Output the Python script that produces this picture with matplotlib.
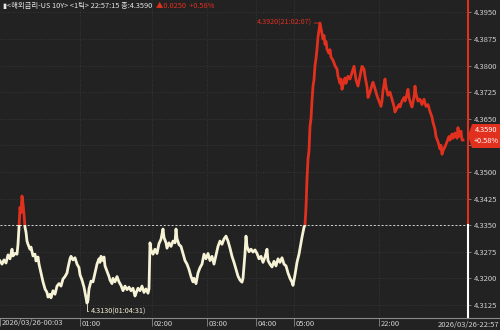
import numpy as np
import matplotlib
matplotlib.use("Agg")
import matplotlib.pyplot as plt
import matplotlib.transforms as mtrans
from matplotlib.patches import Rectangle, Polygon

plt.rcParams['font.family'] = ['Noto Sans CJK KR', 'DejaVu Sans']

# tick index (time, compressed) and yield values
t = [0, 2, 4, 6, 8, 10, 12, 13, 15, 17, 18, 19, 20, 21, 22, 23, 24, 25, 26, 27,
     28, 30, 31, 33, 35, 36, 38, 39, 41, 43, 45, 47, 48, 50, 51, 53, 55, 57, 59, 61,
     63, 65, 67, 68, 70, 71, 73, 75, 77, 79, 80, 82, 84, 85, 87, 88, 89, 91, 93, 95,
     97, 99, 100, 101, 103, 104, 105, 107, 109, 110, 112, 113, 115, 117, 119, 121, 123, 125, 127, 129,
     131, 133, 135, 136, 138, 140, 142, 144, 146, 148, 149, 150, 151, 153, 155, 157, 159, 161, 163, 164,
     166, 167, 169, 171, 173, 175, 176, 177, 179, 181, 183, 185, 187, 189, 191, 193, 194, 196, 198, 200,
     202, 204, 206, 208, 210, 212, 214, 216, 218, 220, 222, 224, 226, 228, 230, 232, 234, 236, 238, 240,
     242, 243, 245, 246, 247, 249, 251, 253, 255, 257, 259, 261, 263, 265, 267, 268, 270, 272, 274, 276,
     278, 280, 282, 284, 286, 288, 290, 292, 293, 295, 297, 299, 301, 302, 304, 305, 306, 307, 308, 309,
     310, 311, 312, 313, 314, 315, 316, 317, 318, 319, 320, 321, 322, 323, 324, 325, 326, 327, 329, 330,
     331, 333, 335, 337, 338, 340, 341, 342, 343, 345, 346, 348, 350, 352, 354, 355, 356, 358, 360, 362,
     364, 365, 367, 368, 370, 372, 373, 375, 377, 379, 381, 382, 383, 385, 386, 388, 390, 392, 394, 395,
     397, 399, 400, 402, 404, 405, 407, 408, 409, 411, 412, 414, 415, 416, 418, 420, 422, 424, 426, 428,
     430, 432, 433, 435, 436, 438, 440, 441, 442, 443, 445, 447, 449, 450, 452, 453, 455, 457, 458, 459,
     461, 462, 463]
yld = [4.3249, 4.3240, 4.3252, 4.3243, 4.3266, 4.3255, 4.3282, 4.3263, 4.3270, 4.3268, 4.3296, 4.3344, 4.3400, 4.3385, 4.3432, 4.3410, 4.3380, 4.3344, 4.3330, 4.3305,
       4.3296, 4.3282, 4.3288, 4.3263, 4.3268, 4.3249, 4.3260, 4.3240, 4.3215, 4.3190, 4.3170, 4.3160, 4.3147, 4.3155, 4.3145, 4.3165, 4.3155, 4.3178, 4.3185, 4.3178,
       4.3198, 4.3205, 4.3215, 4.3230, 4.3255, 4.3262, 4.3252, 4.3258, 4.3240, 4.3230, 4.3210, 4.3195, 4.3175, 4.3160, 4.3130, 4.3138, 4.3170, 4.3192, 4.3190, 4.3215,
       4.3240, 4.3255, 4.3245, 4.3262, 4.3250, 4.3260, 4.3235, 4.3220, 4.3205, 4.3195, 4.3185, 4.3200, 4.3190, 4.3205, 4.3190, 4.3180, 4.3165, 4.3178, 4.3168, 4.3175,
       4.3165, 4.3172, 4.3150, 4.3158, 4.3172, 4.3165, 4.3178, 4.3160, 4.3170, 4.3158, 4.3170, 4.3300, 4.3280, 4.3268, 4.3282, 4.3270, 4.3298, 4.3310, 4.3339, 4.3315,
       4.3300, 4.3285, 4.3300, 4.3290, 4.3305, 4.3300, 4.3339, 4.3312, 4.3295, 4.3290, 4.3270, 4.3250, 4.3240, 4.3225, 4.3205, 4.3190, 4.3200, 4.3185, 4.3215, 4.3230,
       4.3240, 4.3268, 4.3255, 4.3270, 4.3250, 4.3262, 4.3240, 4.3265, 4.3290, 4.3305, 4.3296, 4.3311, 4.3319, 4.3305, 4.3285, 4.3262, 4.3245, 4.3225, 4.3206, 4.3195,
       4.3189, 4.3200, 4.3270, 4.3319, 4.3290, 4.3275, 4.3282, 4.3274, 4.3280, 4.3270, 4.3255, 4.3262, 4.3245, 4.3260, 4.3282, 4.3250, 4.3240, 4.3232, 4.3248, 4.3235,
       4.3255, 4.3245, 4.3258, 4.3240, 4.3235, 4.3215, 4.3200, 4.3189, 4.3180, 4.3210, 4.3245, 4.3268, 4.3300, 4.3316, 4.3344, 4.3350, 4.3400, 4.3480, 4.3536, 4.3560,
       4.3629, 4.3650, 4.3700, 4.3742, 4.3760, 4.3800, 4.3820, 4.3846, 4.3880, 4.3900, 4.3920, 4.3905, 4.3890, 4.3875, 4.3885, 4.3860, 4.3868, 4.3846, 4.3835, 4.3845,
       4.3824, 4.3815, 4.3800, 4.3790, 4.3770, 4.3750, 4.3762, 4.3733, 4.3745, 4.3765, 4.3750, 4.3770, 4.3762, 4.3780, 4.3798, 4.3780, 4.3760, 4.3742, 4.3770, 4.3798,
       4.3790, 4.3770, 4.3740, 4.3710, 4.3725, 4.3745, 4.3753, 4.3735, 4.3715, 4.3700, 4.3685, 4.3700, 4.3730, 4.3762, 4.3740, 4.3716, 4.3725, 4.3705, 4.3685, 4.3669,
       4.3680, 4.3690, 4.3683, 4.3700, 4.3710, 4.3700, 4.3720, 4.3733, 4.3710, 4.3690, 4.3683, 4.3710, 4.3742, 4.3720, 4.3700, 4.3705, 4.3690, 4.3705, 4.3685, 4.3690,
       4.3670, 4.3655, 4.3640, 4.3620, 4.3600, 4.3585, 4.3565, 4.3575, 4.3550, 4.3560, 4.3571, 4.3585, 4.3600, 4.3590, 4.3607, 4.3595, 4.3610, 4.3595, 4.3625, 4.3600,
       4.3615, 4.3590, 4.3590]

prev_close = 4.3350
y_ticks = [4.3125, 4.3200, 4.3275, 4.3350, 4.3425, 4.3500, 4.3575, 4.3650, 4.3725, 4.3800, 4.3875, 4.3950]
x_ticks = [0, 80, 152, 207, 256, 294, 379]
x_labels = ['2026/03/26-00:03', '01:00', '02:00', '03:00', '04:00', '05:00', '22:00']
end_label = '2026/03/26-22:57'

bg = '#222222'
red = '#e2301f'
cream = '#f6f2d6'
grid = '#3d3d3d'
txt = '#cfcfcf'
ylo, yhi = 4.3088, 4.3985

fig = plt.figure(figsize=(5, 3.3), dpi=100, facecolor=bg)
ax = fig.add_axes([0, 12 / 330, 468 / 500, 318 / 330])
ax.set_facecolor(bg)
ax.set_xlim(0, 468)
ax.set_ylim(ylo, yhi)
for s in ax.spines.values():
    s.set_visible(False)

# grid
for yv in y_ticks:
    ax.axhline(yv, color=grid, lw=0.6, ls=(0, (1, 2)), zorder=0)
for xv in x_ticks[1:]:
    ax.axvline(xv, color=grid, lw=0.6, ls=(0, (1, 2)), zorder=0)

ax.axhline(prev_close, color='#d6d6d6', lw=0.7, ls=(0, (2, 2)), zorder=1)

# price line, red above previous close, cream below
up = ax.plot(t, yld, color=red, lw=2.0, zorder=3)[0]
dn = ax.plot(t, yld, color=cream, lw=2.0, zorder=3)[0]
up.set_clip_path(Rectangle((0, prev_close), 500, 1, transform=ax.transData))
dn.set_clip_path(Rectangle((0, prev_close - 1), 500, 1, transform=ax.transData))

# right edge line
frac = (prev_close - ylo) / (yhi - ylo)
ax.axvline(468, ymin=frac, ymax=1, color=red, lw=1.5, clip_on=False, zorder=4)
ax.axvline(468, ymin=0, ymax=frac, color='white', lw=1.5, clip_on=False, zorder=4)

# ticks (the 4.3575 label sits under the last-price tag)
ax.yaxis.tick_right()
ax.set_yticks(y_ticks)
ax.set_yticklabels(['' if v == 4.3575 else f'{v:.4f}' for v in y_ticks])
ax.tick_params(axis='y', length=2, width=0.6, color='#888888', labelcolor=txt, labelsize=5.5, pad=2)
ax.set_xticks(x_ticks)
ax.set_xticklabels(x_labels)
ax.tick_params(axis='x', length=6, width=0.6, color='#888888', labelcolor=txt, labelsize=5.5, pad=-6)
for lab in ax.get_xticklabels():
    lab.set_horizontalalignment('left')
    lab.set_transform(lab.get_transform() + mtrans.ScaledTranslation(1.5 / 100, -1.5 / 100, fig.dpi_scale_trans))

fig.lines.append(plt.Line2D([0, 1], [12 / 330, 12 / 330], color='#8a8a8a', lw=0.8, transform=fig.transFigure))
fig.text(0.998, 5 / 330, end_label, ha='right', va='center', color=txt, fontsize=5.5)

# annotations for high / low
i_hi = int(np.argmax(yld))
i_lo = int(np.argmin(yld))
ax.annotate(f'{yld[i_hi]:.4f}(21:02:07)', xy=(t[i_hi], yld[i_hi]), xytext=(-6, 0),
            textcoords='offset points', ha='right', va='center', color=red, fontsize=5.2,
            arrowprops=dict(arrowstyle='-', color=red, lw=0.6, shrinkA=0, shrinkB=1))
ax.annotate(f'{yld[i_lo]:.4f}(01:04:31)', xy=(t[i_lo], yld[i_lo]), xytext=(3, -6),
            textcoords='offset points', ha='left', va='center', color=cream, fontsize=5.2,
            arrowprops=dict(arrowstyle='-', color=cream, lw=0.6, shrinkA=0, shrinkB=1,
                            connectionstyle='angle,angleA=0,angleB=90,rad=0'))

# last price tag
tag = Polygon([[468 / 500, 1 - 136 / 330], [472 / 500, 1 - 124 / 330], [500 / 500, 1 - 124 / 330],
               [500 / 500, 1 - 148 / 330], [472 / 500, 1 - 148 / 330]],
              closed=True, transform=fig.transFigure, facecolor=red, edgecolor='none', zorder=10)
fig.patches.append(tag)
fig.text(486 / 500, 1 - 130 / 330, f'{yld[-1]:.4f}', ha='center', va='center', color='white', fontsize=5.3, zorder=11)
fig.text(486 / 500, 1 - 141 / 330, '+0.58%', ha='center', va='center', color='white', fontsize=5.3, zorder=11)

# header
head = fig.text(0.006, 1 - 6 / 330, '▮<해외금리-US 10Y> <1틱> 22:57:15 종:4.3590',
                ha='left', va='center', color='#e6e6e6', fontsize=5.3)
ax.annotate('▲0.0250  +0.58%', xy=(1, 0.5), xycoords=head, xytext=(3, 0), textcoords='offset points',
            ha='left', va='center', color=red, fontsize=5.3, annotation_clip=False)

fig.savefig('out.png', dpi=100, facecolor=bg)
